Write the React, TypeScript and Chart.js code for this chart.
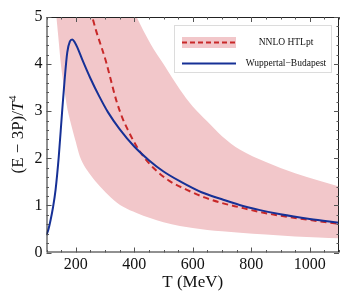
import React, { useEffect, useRef } from "react";
import { Chart, registerables } from "chart.js";

Chart.register(...registerables);

// Wuppertal–Budapest lattice curve
const T_WB = [100, 107, 114, 122, 131, 142, 153, 162, 171, 180, 188, 196, 205, 222, 250, 280, 310, 350, 400, 450, 500, 560, 630, 700, 760, 830, 900, 1000, 1100];
const E_WB = [0.37, 0.5, 0.69, 0.95, 1.33, 2.04, 2.96, 3.67, 4.25, 4.48, 4.52, 4.47, 4.36, 4.1, 3.7, 3.32, 2.98, 2.62, 2.25, 1.96, 1.72, 1.5, 1.28, 1.13, 1.01, 0.9, 0.81, 0.71, 0.63];

// NNLO HTLpt central curve
const T_HTL = [250, 260, 270, 290, 305, 320, 340, 360, 380, 400, 430, 465, 520, 580, 640, 700, 760, 830, 900, 1000, 1100];
const E_HTL = [5.15, 4.92, 4.7, 4.32, 4.02, 3.66, 3.2, 2.85, 2.58, 2.34, 2.05, 1.8, 1.52, 1.33, 1.17, 1.05, 0.96, 0.86, 0.78, 0.69, 0.61];

// NNLO HTLpt uncertainty band
const T_BAND = [130, 134, 140, 150, 160, 172, 180, 200, 214, 250, 283, 320, 362, 408, 454, 500, 556, 600, 650, 700, 762, 850, 950, 1030, 1100];
const BAND_LO = [5.3, 5.0, 4.6, 3.95, 3.5, 3.03, 2.82, 2.35, 2.04, 1.65, 1.4, 1.17, 0.97, 0.84, 0.73, 0.64, 0.56, 0.52, 0.48, 0.45, 0.42, 0.38, 0.34, 0.32, 0.3];
const BAND_HI = [9, 9, 9, 9, 9, 9, 9, 8.5, 8.2, 7.5, 7, 6.4, 5.6, 5.0, 4.45, 4.0, 3.46, 3.1, 2.78, 2.47, 2.18, 1.92, 1.68, 1.53, 1.4];

const X_TICKS = [200, 400, 600, 800, 1000];
const Y_TICKS = [0, 1, 2, 3, 4, 5];

const SERIF = '"Liberation Serif", "Times New Roman", serif';
const BLUE = "rgb(22,48,150)";
const RED = "rgb(200,40,40)";
const PINK = "rgb(242,199,202)";

const pts = (xs: number[], ys: number[]) => xs.map((x, i) => ({ x, y: ys[i] }));

const framePlugin = {
  id: "frameTicks",
  afterDatasetsDraw(chart: any) {
    const { ctx, chartArea: a, scales } = chart;
    const xs = scales.x;
    const ys = scales.y;
    ctx.save();
    ctx.strokeStyle = "#222";
    ctx.lineWidth = 1;
    ctx.strokeRect(a.left + 0.5, a.top + 0.5, a.right - a.left - 1, a.bottom - a.top - 1);
    ctx.strokeStyle = "#555";
    ctx.beginPath();
    for (let v = 100; v <= 1100; v += 50) {
      const px = Math.round(xs.getPixelForValue(v)) + 0.5;
      const len = v % 200 === 0 ? 5 : 2.5;
      ctx.moveTo(px, a.bottom);
      ctx.lineTo(px, a.bottom - len);
      ctx.moveTo(px, a.top);
      ctx.lineTo(px, a.top + len);
    }
    for (let k = 0; k <= 25; k++) {
      const v = k * 0.2;
      const py = Math.round(ys.getPixelForValue(v)) + 0.5;
      const len = k % 5 === 0 ? 5 : 2.5;
      ctx.moveTo(a.left, py);
      ctx.lineTo(a.left + len, py);
      ctx.moveTo(a.right, py);
      ctx.lineTo(a.right - len, py);
    }
    ctx.stroke();
    ctx.restore();
  },
  afterDraw(chart: any) {
    const { ctx, chartArea: a } = chart;
    ctx.save();
    // x title
    ctx.fillStyle = "#111";
    ctx.font = `17px ${SERIF}`;
    ctx.textAlign = "center";
    ctx.textBaseline = "middle";
    ctx.fillText("T (MeV)", (a.left + a.right) / 2, 283);
    // y title with italic T and superscript 4
    ctx.translate(19, (a.top + a.bottom) / 2);
    ctx.rotate(-Math.PI / 2);
    ctx.textAlign = "left";
    const p1 = "(E \u2212 3P)/";
    ctx.font = `17px ${SERIF}`;
    const w1 = ctx.measureText(p1).width;
    ctx.font = `italic 17px ${SERIF}`;
    const w2 = ctx.measureText("T").width;
    ctx.font = `11px ${SERIF}`;
    const w3 = ctx.measureText("4").width;
    let x0 = -(w1 + w2 + w3) / 2;
    ctx.font = `17px ${SERIF}`;
    ctx.fillText(p1, x0, 0);
    x0 += w1;
    ctx.font = `italic 17px ${SERIF}`;
    ctx.fillText("T", x0, 0);
    x0 += w2 + 0.5;
    ctx.font = `11px ${SERIF}`;
    ctx.fillText("4", x0, -6);
    ctx.restore();

    // legend
    const ds = chart.data.datasets;
    const bx = 174, by = 25, bw = 158, bh = 48;
    ctx.save();
    ctx.fillStyle = "#fff";
    ctx.fillRect(bx, by, bw, bh);
    ctx.strokeStyle = "#dcdcdc";
    ctx.lineWidth = 1;
    ctx.strokeRect(bx + 0.5, by + 0.5, bw - 1, bh - 1);
    const rows = [
      { label: ds[1].label, y: 42.5, color: RED, dash: [5, 3], band: true },
      { label: ds[0].label, y: 63.5, color: BLUE, dash: [], band: false },
    ];
    rows.forEach((r) => {
      if (r.band) {
        ctx.fillStyle = PINK;
        ctx.fillRect(182, r.y - 5.5, 54, 11);
      }
      ctx.strokeStyle = r.color;
      ctx.lineWidth = 1.8;
      ctx.setLineDash(r.dash);
      ctx.beginPath();
      ctx.moveTo(182, r.y);
      ctx.lineTo(236, r.y);
      ctx.stroke();
      ctx.setLineDash([]);
      ctx.fillStyle = "#111";
      ctx.font = `9.5px ${SERIF}`;
      ctx.textAlign = "center";
      ctx.textBaseline = "middle";
      ctx.fillText(r.label, 286, r.y);
    });
    ctx.restore();
  },
};

export default function App() {
  const ref = useRef<HTMLCanvasElement | null>(null);
  useEffect(() => {
    document.body.style.margin = "0";
    const canvas = ref.current;
    if (!canvas) return;
    const chart = new Chart(canvas, {
      type: "line",
      data: {
        datasets: [
          {
            label: "Wuppertal\u2212Budapest",
            data: pts(T_WB, E_WB),
            borderColor: BLUE,
            borderWidth: 2,
            pointRadius: 0,
            cubicInterpolationMode: "monotone",
            fill: false,
            order: 0,
          },
          {
            label: "NNLO HTLpt",
            data: pts(T_HTL, E_HTL),
            borderColor: RED,
            borderWidth: 2,
            borderDash: [6, 4],
            pointRadius: 0,
            cubicInterpolationMode: "monotone",
            fill: false,
            order: 1,
          },
          {
            label: "band upper",
            data: pts(T_BAND, BAND_HI),
            borderWidth: 0,
            borderColor: "rgba(0,0,0,0)",
            backgroundColor: PINK,
            pointRadius: 0,
            cubicInterpolationMode: "monotone",
            fill: "+1",
            order: 2,
          },
          {
            label: "band lower",
            data: pts(T_BAND, BAND_LO),
            borderWidth: 0,
            borderColor: "rgba(0,0,0,0)",
            pointRadius: 0,
            cubicInterpolationMode: "monotone",
            fill: false,
            order: 3,
          },
        ],
      } as any,
      options: {
        animation: false,
        responsive: false,
        layout: { padding: { top: 17, right: 21, left: 0, bottom: 0 } },
        plugins: { legend: { display: false }, tooltip: { enabled: false } },
        scales: {
          x: {
            type: "linear",
            min: 100,
            max: 1100,
            grid: { display: false, drawTicks: false },
            border: { display: false },
            afterBuildTicks: (s: any) => {
              s.ticks = X_TICKS.map((v) => ({ value: v }));
            },
            afterFit: (s: any) => {
              s.height = 43.5;
            },
            ticks: {
              color: "#111",
              font: { family: SERIF, size: 16 },
              padding: 3,
              maxRotation: 0,
              callback: (v: any) => String(v),
            },
          },
          y: {
            type: "linear",
            min: 0,
            max: 5,
            grid: { display: false, drawTicks: false },
            border: { display: false },
            afterBuildTicks: (s: any) => {
              s.ticks = Y_TICKS.map((v) => ({ value: v }));
            },
            afterFit: (s: any) => {
              s.width = 46.5;
            },
            ticks: { color: "#111", font: { family: SERIF, size: 16 }, padding: 4, callback: (v: any) => String(v) },
          },
        },
      } as any,
      plugins: [framePlugin],
    });
    return () => chart.destroy();
  }, []);
  return (
    <div style={{ width: 360, height: 296 }}>
      <canvas ref={ref} width={360} height={296} />
    </div>
  );
}
